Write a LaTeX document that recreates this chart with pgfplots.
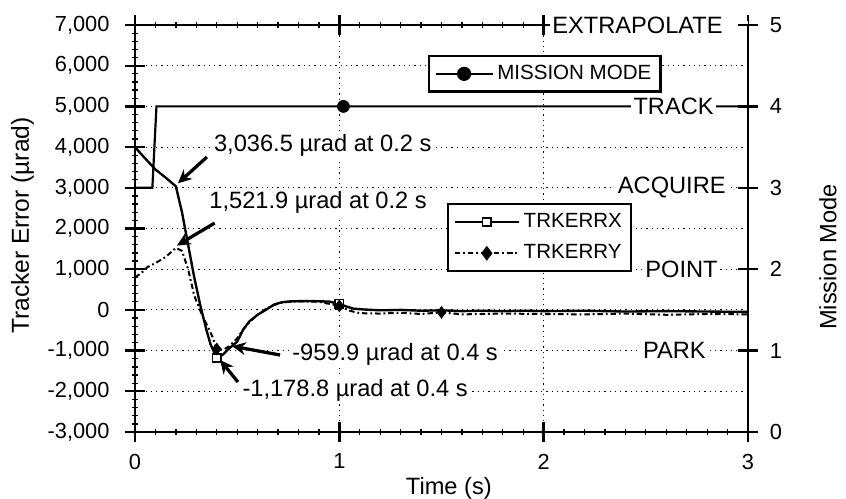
\documentclass[border=0pt]{standalone}
\usepackage{fontspec}
\setmainfont{Liberation Sans}
\usepackage{pgfplots}
\usepackage{pgfplotstable}
\pgfplotsset{compat=1.18}
\usetikzlibrary{arrows.meta}

% tracker error X (urad)
\pgfplotstableread{
t v
0 4000
0.05 3720
0.1 3450
0.15 3250
0.2 3036.5
0.23 2400
0.26 1600
0.29 800
0.32 100
0.35 -500
0.37 -850
0.4 -1178.8
0.43 -1100
0.46 -950
0.5 -780
0.53 -480
0.56 -280
0.6 -120
0.64 0
0.68 130
0.72 190
0.76 210
0.8 215
0.85 218
0.9 212
0.95 205
1.0 150
1.03 90
1.07 30
1.12 10
1.2 -10
1.3 0
1.4 -20
1.5 -10
1.6 -30
1.7 -20
1.8 -30
1.9 -20
2.0 -30
2.2 -20
2.4 -40
2.6 -30
2.8 -40
3.0 -50
}\trkx

% tracker error Y (urad)
\pgfplotstableread{
t v
0 800
0.03 900
0.06 1050
0.1 1150
0.15 1300
0.2 1521.9
0.23 1450
0.26 1000
0.29 350
0.33 -150
0.36 -450
0.38 -670
0.4 -959.9
0.43 -980
0.46 -900
0.5 -700
0.53 -480
0.56 -300
0.6 -120
0.64 20
0.68 120
0.72 180
0.76 200
0.8 210
0.9 200
1.0 100
1.05 -20
1.1 -80
1.2 -90
1.3 -70
1.4 -100
1.5 -60
1.6 -110
1.8 -90
2.0 -100
2.2 -110
2.4 -90
2.6 -120
2.8 -100
3.0 -110
}\trky

\pgfplotsset{
  common/.style={
    scale only axis, width=337.15pt, height=223.85pt,
    xmin=0, xmax=3,
    tick align=center, major tick length=11pt, minor tick length=3pt,
    tick style={black, line width=1.3pt},
    minor tick style={line width=0.7pt},
    axis line style={line width=1.4pt},
    tick label style={font=\fontsize{12}{14}\selectfont},
    /pgf/number format/assume math mode=true,
    legend style={draw=black, line width=1.2pt, fill=white,
      font=\fontsize{11.3}{13}\selectfont, inner sep=3pt},
    legend cell align=left,
  },
}
\tikzset{lbl/.style={fill=white, inner sep=1.5pt, font=\fontsize{13}{15}\selectfont},
  arr/.style={line width=1.8pt, -{Stealth[length=7.5pt,width=7pt]}}}

\begin{document}
\begin{tikzpicture}
\begin{axis}[
  common,
  ymin=-3000, ymax=7000,
  xtick={0,1,2,3}, minor x tick num=9,
  ytick={-3000,-2000,...,7000}, minor y tick num=4,
  ytick pos=left, xtick pos=both,
  scaled y ticks=false,
  grid=major,
  major grid style={black, line width=0.6pt, dash pattern=on 0.7pt off 2.2pt},
  yticklabel style={xshift=-5pt},
  xticklabel style={yshift=-3pt},
  xlabel={Time (s)}, ylabel={Tracker Error (µrad)},
  every axis x label/.style={at={(axis description cs:0.512,-0.138)}, anchor=center, font=\fontsize{13}{15}\selectfont},
  every axis y label/.style={at={(axis description cs:-0.1835,0.507)}, anchor=center, rotate=90, font=\fontsize{13.5}{15}\selectfont},
  legend style={at={(axis description cs:0.509,0.562)}, anchor=north west, row sep=4pt},
  legend image code/.code={\draw[mark repeat=2, mark phase=2, #1] plot coordinates {(0cm,0cm) (0.62cm,0cm) (1.24cm,0cm)};},
]
\coordinate (O) at (rel axis cs:0,0);
\addplot[black, line width=1.3pt, forget plot] table[x=t, y=v] {\trkx};
\addplot[black, line width=1.1pt, dash pattern=on 3pt off 1.6pt on 1pt off 1.6pt, forget plot] table[x=t, y=v] {\trky};
\addplot[only marks, mark=square*, mark size=2.3pt, mark options={fill=white, line width=0.9pt}, forget plot]
  coordinates {(0.4,-1178.8) (1.0,150)};
\addplot[only marks, mark=diamond*, mark size=3.2pt, forget plot]
  coordinates {(0.4,-959.9) (1.0,100) (1.5,-60)};
\addlegendimage{black, line width=1.3pt, mark=square*, mark size=2.3pt, mark options={fill=white, line width=0.9pt}}
\addlegendentry{TRKERRX}
\addlegendimage{black, line width=1.1pt, dash pattern=on 3pt off 1.6pt on 1pt off 1.6pt, mark=diamond*, mark size=3.2pt, mark options={solid}}
\addlegendentry{TRKERRY}

\node[lbl, anchor=west] at (0.372,4050) {3,036.5 µrad at 0.2 s};
\node[lbl, anchor=west] at (0.349,2650) {1,521.9 µrad at 0.2 s};
\node[lbl, anchor=west] at (0.755,-1100) {-959.9 µrad at 0.4 s};
\node[lbl, anchor=west] at (0.511,-1980) {-1,178.8 µrad at 0.4 s};
\draw[arr] (0.352,3757) -- (0.21,3110);
\draw[arr] (0.39,2135) -- (0.205,1580);
\draw[arr] (0.71,-1108) -- (0.475,-890);
\draw[arr] (0.504,-1772) -- (0.416,-1230);
\end{axis}

\begin{axis}[
  common,
  ymin=0, ymax=5,
  axis x line=none, axis y line*=right,
  ytick={0,1,...,5},
  axis on top, clip=false,
  yticklabel style={xshift=3pt},
  ylabel={Mission Mode},
  every axis y label/.style={at={(axis description cs:1.1305,0.43)}, anchor=center, rotate=90, font=\fontsize{13}{15}\selectfont},
  legend style={at={(axis description cs:0.478,0.926)}, anchor=north west},
  legend image code/.code={\draw[mark repeat=2, mark phase=2, #1] plot coordinates {(0cm,0cm) (0.55cm,0cm) (1.1cm,0cm)};},
]
\addplot[black, line width=1.2pt, forget plot] coordinates {(0,3) (0.085,3) (0.105,4) (3,4)};
\addplot[only marks, mark=*, mark size=3.3pt, forget plot] coordinates {(1.02,4)};
\addlegendimage{black, line width=1.2pt, mark=*, mark size=3.3pt}
\addlegendentry{MISSION MODE}

\fill[white] ([yshift=-2pt]axis cs:2.04,5) rectangle ([yshift=2pt]axis cs:3,5);
\node[lbl, anchor=east, xshift=-12.25pt] at (3,5) {EXTRAPOLATE};
\node[lbl, anchor=east, xshift=-17.2pt] at (3,4) {TRACK};
\node[lbl, anchor=east, xshift=-10.6pt] at (3,3) {ACQUIRE};
\node[lbl, anchor=east, xshift=-15pt] at (3,2) {POINT};
\node[lbl, anchor=east, xshift=-21.6pt] at (3,1) {PARK};
\end{axis}

\pgfresetboundingbox
\path (O) ++(-74.25pt,-36.3pt) rectangle ++(465.3pt,273.9pt);
\end{tikzpicture}
\end{document}
